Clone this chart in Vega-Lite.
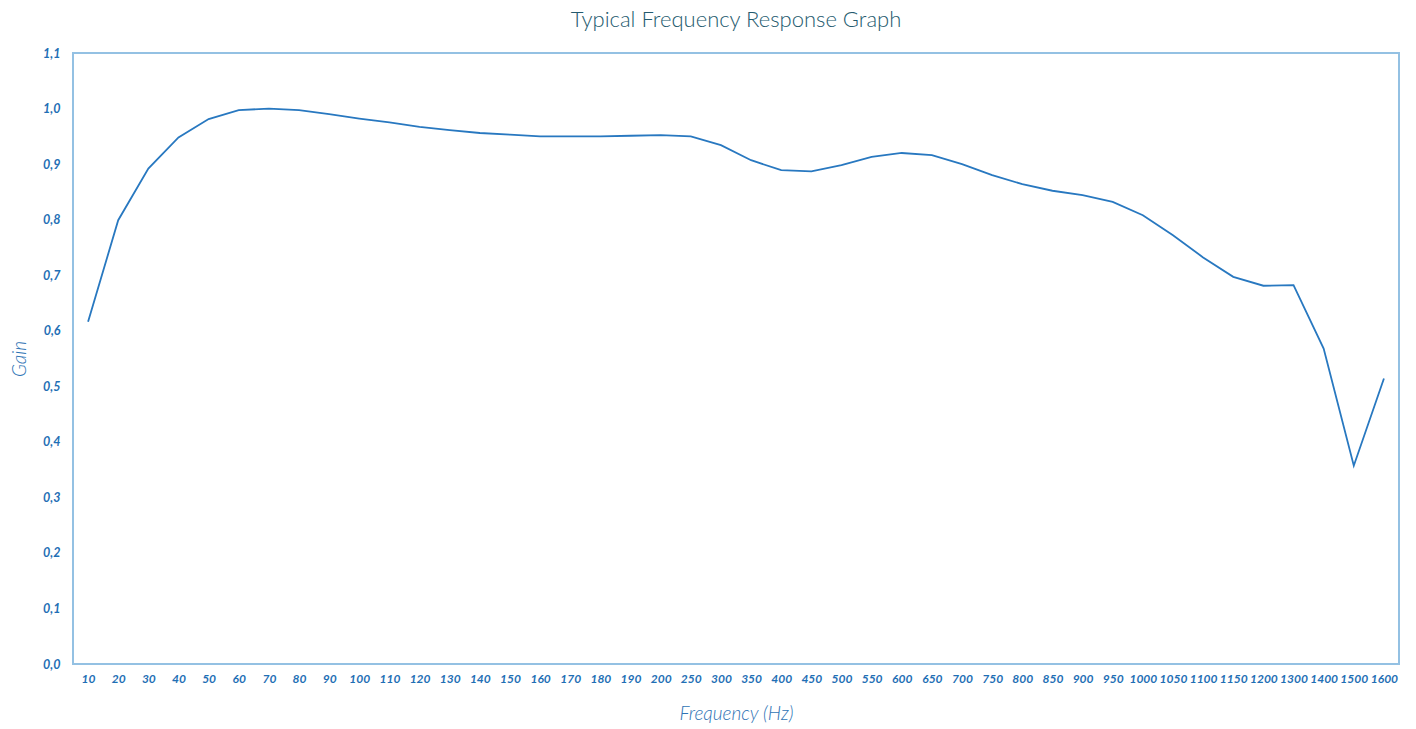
{
  "$schema": "https://vega.github.io/schema/vega-lite/v6.json",
  "width": 1326,
  "height": 611,
  "autosize": "none",
  "padding": {"left": 73, "top": 53, "right": 17, "bottom": 65},
  "background": "white",
  "title": {
    "text": "Typical Frequency Response Graph",
    "font": "Lato",
    "fontWeight": 300,
    "fontSize": 22,
    "color": "#245a6e",
    "anchor": "middle",
    "offset": 15
  },
  "config": {
    "view": {"stroke": "#94c1e3", "strokeWidth": 2},
    "axis": {"domain": false, "ticks": false, "grid": false}
  },
  "data": {
    "values": [
      {"freq": 10, "gain": 0.616},
      {"freq": 20, "gain": 0.799},
      {"freq": 30, "gain": 0.892},
      {"freq": 40, "gain": 0.948},
      {"freq": 50, "gain": 0.981},
      {"freq": 60, "gain": 0.997},
      {"freq": 70, "gain": 1.0},
      {"freq": 80, "gain": 0.997},
      {"freq": 90, "gain": 0.990},
      {"freq": 100, "gain": 0.982},
      {"freq": 110, "gain": 0.975},
      {"freq": 120, "gain": 0.967},
      {"freq": 130, "gain": 0.961},
      {"freq": 140, "gain": 0.956},
      {"freq": 150, "gain": 0.953},
      {"freq": 160, "gain": 0.950},
      {"freq": 170, "gain": 0.950},
      {"freq": 180, "gain": 0.950},
      {"freq": 190, "gain": 0.951},
      {"freq": 200, "gain": 0.952},
      {"freq": 250, "gain": 0.950},
      {"freq": 300, "gain": 0.934},
      {"freq": 350, "gain": 0.907},
      {"freq": 400, "gain": 0.889},
      {"freq": 450, "gain": 0.887},
      {"freq": 500, "gain": 0.898},
      {"freq": 550, "gain": 0.913},
      {"freq": 600, "gain": 0.920},
      {"freq": 650, "gain": 0.916},
      {"freq": 700, "gain": 0.900},
      {"freq": 750, "gain": 0.880},
      {"freq": 800, "gain": 0.864},
      {"freq": 850, "gain": 0.852},
      {"freq": 900, "gain": 0.844},
      {"freq": 950, "gain": 0.832},
      {"freq": 1000, "gain": 0.808},
      {"freq": 1050, "gain": 0.772},
      {"freq": 1100, "gain": 0.732},
      {"freq": 1150, "gain": 0.697},
      {"freq": 1200, "gain": 0.681},
      {"freq": 1300, "gain": 0.682},
      {"freq": 1400, "gain": 0.568},
      {"freq": 1500, "gain": 0.357},
      {"freq": 1600, "gain": 0.514}
    ]
  },
  "mark": {"type": "line", "color": "#2878c0", "strokeWidth": 1.8},
  "encoding": {
    "x": {
      "field": "freq",
      "type": "ordinal",
      "scale": {"type": "point", "padding": 0.5},
      "axis": {
        "title": "Frequency (Hz)",
        "labelAngle": 0,
        "labelFont": "Lato",
        "labelFontSize": 12,
        "labelFontWeight": "bold",
        "labelFontStyle": "italic",
        "labelColor": "#1f6fb5",
        "labelPadding": 9,
        "labelOverlap": false,
        "titleFont": "Lato",
        "titleFontSize": 19,
        "titleFontWeight": 300,
        "titleFontStyle": "italic",
        "titleColor": "#2f74b5",
        "titlePadding": 20
      }
    },
    "y": {
      "field": "gain",
      "type": "quantitative",
      "scale": {"domain": [0, 1.1], "nice": false, "zero": true},
      "axis": {
        "title": "Gain",
        "values": [0, 0.1, 0.2, 0.3, 0.4, 0.5, 0.6, 0.7, 0.8, 0.9, 1.0, 1.1],
        "labelExpr": "replace(format(datum.value, '.1f'), '.', ',')",
        "labelFont": "Lato",
        "labelFontSize": 12.5,
        "labelFontWeight": "bold",
        "labelFontStyle": "italic",
        "labelColor": "#1f6fb5",
        "labelPadding": 13,
        "titleFont": "Lato",
        "titleFontSize": 19,
        "titleFontWeight": 300,
        "titleFontStyle": "italic",
        "titleColor": "#2f74b5",
        "titlePadding": 13
      }
    }
  }
}
